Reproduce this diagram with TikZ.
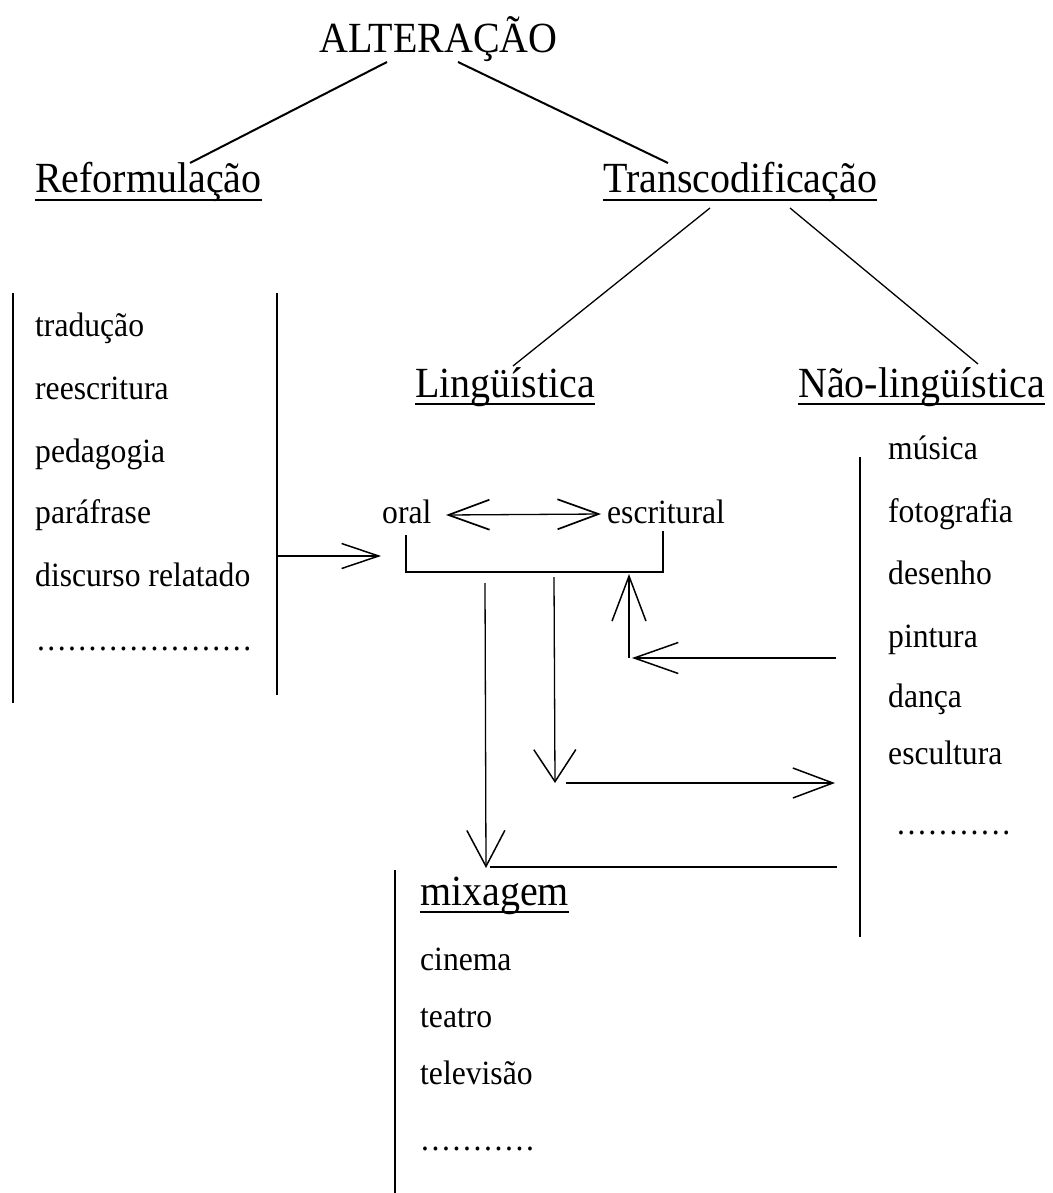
\documentclass[tikz,border=0pt]{standalone}
\usepackage{fontspec}
\setmainfont{Liberation Serif}[FakeStretch=0.93]
\usetikzlibrary{arrows.meta}
\newcount\dotcnt
\newcommand\dotrow[2]{\dotcnt=0 \loop .\kern#2\relax\advance\dotcnt by 1 \ifnum\dotcnt<#1\repeat}
\tikzset{
  hdr/.style={font=\fontsize{43}{50}\selectfont, inner sep=0pt, anchor=base west},
  itm/.style={font=\fontsize{34}{40}\selectfont, inner sep=0pt, anchor=base west},
  itmr/.style={font=\fontsize{34}{40}\selectfont, inner sep=0pt, anchor=base west},
  branch/.style={line width=2pt},
  subbranch/.style={line width=1.3pt},
  bar/.style={line width=1.9pt},
  conn/.style={line width=1.3pt},
  uline/.style={line width=1.5pt},
  barb/.style args={#1/#2}{-{Straight Barb[length=#1pt,width=#2pt,line width=1.5pt]}},
  dbarb/.style args={#1/#2}{{Straight Barb[length=#1pt,width=#2pt,line width=1.7pt]}-{Straight Barb[length=#1pt,width=#2pt,line width=1.7pt]}}
}
\begin{document}
\begin{tikzpicture}[x=1pt,y=-1pt]
\useasboundingbox (0,0) rectangle (1052,1193);
% headings
\node[hdr] (alt) at (319,53) {ALTERAÇÃO};
\node[hdr] (ref) at (35,193) {Reformulação};
\node[hdr] (trans) at (603,193) {Transcodificação};
\node[hdr] (ling) at (415,397) {Lingüística};
\node[hdr] (nling) at (798,397) {Não-lingüística};
\node[hdr] (mix) at (420,905) {mixagem};
\foreach \n in {ref,trans,ling,nling,mix}
  \draw[uline] ([yshift=-7pt]\n.base west) -- ([yshift=-7pt]\n.base east);
% tree branch end points
\coordinate (altL) at (387,62);
\coordinate (refT) at (190,163);
\coordinate (altR) at (458,62);
\coordinate (transT) at (668,163);
\coordinate (transL) at (710,208);
\coordinate (lingT) at (513,366);
\coordinate (transR) at (790,208);
\coordinate (nlingT) at (978,364);
\draw[branch] (altL) -- (refT);
\draw[branch] (altR) -- (transT);
\draw[subbranch] (transL) -- (lingT);
\draw[subbranch] (transR) -- (nlingT);
% left list
\node[itm] (i1) at (35,336) {tradução};
\node[itm] (i2) at (35,399) {reescritura};
\node[itm] (i3) at (35,462) {pedagogia};
\node[itm] (i4) at (35,523) {paráfrase};
\node[itm] (i5) at (35,586) {discurso relatado};
\node[itm] (i6) at (37,650) {\dotrow{21}{2.4pt}};
\coordinate (l1t) at (13,293); \coordinate (l1b) at (13,703);
\coordinate (l2t) at (277,293); \coordinate (l2b) at (277,695);
\draw[bar] (l1t) -- (l1b);
\draw[bar] (l2t) -- (l2b);
% oral / escritural
\node[itm] (oral) at (382,523) {oral};
\node[itm] (escr) at (607,523) {escritural};
\coordinate (dA) at (446,515);
\coordinate (dB) at (601,514);
\draw[conn, dbarb=41/30] (dA) -- (dB);
\coordinate (l2a) at (277,556);
\coordinate (oralIn) at (381,556);
\draw[conn, barb=37/25] (l2a) -- (oralIn);
% bracket
\coordinate (brL) at (406,535);
\coordinate (brR) at (663,531);
\draw[conn] (brL) -- (406,572) -- (663,572) -- (brR);
% right list
\node[itmr] (r1) at (888,459) {música};
\node[itmr] (r2) at (888,522) {fotografia};
\node[itmr] (r3) at (888,584) {desenho};
\node[itmr] (r4) at (888,647) {pintura};
\node[itmr] (r5) at (888,707) {dança};
\node[itmr] (r6a) at (888,764) {escultura};
\node[itmr] (r6) at (897,834) {\dotrow{11}{2.6pt}};
\coordinate (rt) at (860,457); \coordinate (rb) at (860,937);
\draw[bar] (rt) -- (rb);
% arrows between groups
\coordinate (d1s) at (485,583); \coordinate (d1e) at (486,868);
\draw[conn, barb=36/38] (d1s) -- (d1e);
\coordinate (d2s) at (554,577); \coordinate (d2e) at (555,783);
\draw[conn, barb=32/42] (d2s) -- (d2e);
\coordinate (h2s) at (566,783); \coordinate (h2e) at (835,783);
\draw[conn, barb=40/30] (h2s) -- (h2e);
\coordinate (h1s) at (836,658); \coordinate (h1e) at (632,658);
\draw[conn, barb=44/31] (h1s) -- (h1e);
\coordinate (u1s) at (629,658); \coordinate (u1e) at (629,574);
\draw[conn, barb=45/34] (u1s) -- (u1e);
\coordinate (h3s) at (490,867); \coordinate (h3e) at (837,867);
\draw[conn] (h3s) -- (h3e);
% mixagem list
\node[itm] (m1) at (420,970) {cinema};
\node[itm] (m2) at (420,1027) {teatro};
\node[itm] (m3) at (420,1084) {televisão};
\node[itm] (m4) at (421,1150) {\dotrow{11}{2.6pt}};
\coordinate (bt) at (395,870); \coordinate (bb) at (395,1193);
\draw[bar] (bt) -- (bb);
\end{tikzpicture}
\end{document}
